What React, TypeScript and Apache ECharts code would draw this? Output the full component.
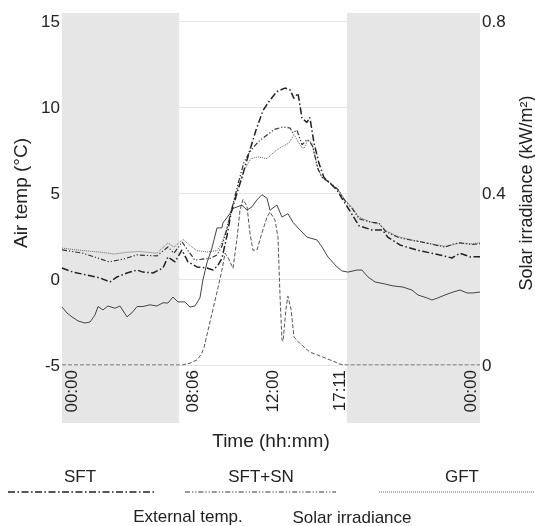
import React, { useEffect, useRef } from "react";
import * as echarts from "echarts";

// ---- axis ticks ----
const xTickPos = [0.57, 7.52, 12.11, 15.96, 23.48];
const xTickLabels = ["00:00", "08:06", "12:00", "17:11", "00:00"];
const nightBands = [
  [0, 6.72],
  [16.36, 24],
];

// ---- series names ----
const seriesNames = ["SFT", "SFT+SN", "GFT", "External temp.", "Solar irradiance"];

// ---- SFT (dash-dot) ----
const sftTime = [0, 0.63, 1.45, 2.18, 2.76, 3.16, 3.73, 4.31, 4.65, 5.22, 5.8, 6.08, 6.49, 6.89, 7.23, 7.75, 8.32, 8.67, 8.96, 9.18, 9.47, 9.7, 9.99, 10.33, 10.73, 11.14, 11.54, 11.94, 12.34, 12.8, 13.09, 13.32, 13.55, 13.78, 14.06, 14.23, 14.47, 14.75, 15.04, 15.38, 15.79, 16.13, 16.5, 17.05, 17.8, 18.4, 18.7, 19.4, 20.35, 21.7, 22.39, 22.85, 23.45, 24];
const sftTemp = [0.64, 0.4, 0.23, 0.06, -0.17, 0.12, 0.35, 0.52, 0.4, 0.35, 0.64, 1.28, 1.0, 1.69, 1.0, 0.7, 0.64, 0.52, 0.8, 1.2, 2.5, 3.8, 4.8, 5.9, 7.3, 8.66, 9.8, 10.4, 10.9, 11.1, 11.0, 10.5, 10.8, 9.36, 9.1, 9.4, 7.9, 6.74, 5.9, 5.58, 5.17, 4.6, 4.0, 3.1, 2.85, 2.85, 2.44, 1.98, 1.69, 1.4, 1.22, 1.5, 1.28, 1.3];

// ---- SFT+SN (dash-dot-dot) ----
const sftsnTime = [0, 1.2, 2.7, 3.5, 4.3, 5.45, 6.08, 6.43, 6.9, 7.2, 7.63, 8.0, 8.5, 8.9, 9.18, 9.47, 9.76, 10.1, 10.45, 10.85, 11.3, 11.77, 12.2, 12.69, 13.09, 13.26, 13.49, 13.78, 14.06, 14.23, 14.4, 14.69, 14.93, 15.38, 15.85, 16.25, 16.7, 17.05, 17.75, 18.2, 18.6, 19.35, 20.1, 20.9, 22.0, 22.5, 22.85, 23.5, 24];
const sftsnTemp = [1.69, 1.5, 1.0, 1.15, 1.4, 1.34, 1.86, 1.5, 2.15, 1.7, 1.1, 1.15, 1.2, 1.4, 1.9, 2.9, 4.1, 5.5, 6.8, 7.5, 8.0, 8.37, 8.7, 8.84, 8.78, 8.5, 8.66, 7.8, 8.1, 7.97, 7.7, 6.4, 5.9, 5.6, 5.2, 4.55, 4.05, 3.5, 3.3, 3.25, 2.75, 2.4, 2.25, 2.1, 1.85, 2.05, 2.1, 2.0, 2.05];

// ---- GFT (dotted) ----
const gftTime = [0, 0.75, 2.3, 3.0, 3.7, 4.4, 5.45, 6.08, 6.43, 6.95, 7.35, 7.75, 8.32, 8.9, 9.18, 9.47, 9.76, 10.1, 10.45, 10.85, 11.25, 11.77, 12.2, 12.63, 13.03, 13.32, 13.49, 13.72, 13.9, 14.12, 14.35, 14.64, 14.93, 15.38, 15.85, 16.25, 16.7, 17.05, 17.75, 18.2, 18.6, 19.35, 20.1, 20.9, 22.0, 22.5, 22.85, 23.5, 24];
const gftTemp = [1.8, 1.7, 1.55, 1.45, 1.55, 1.6, 1.5, 2.1, 1.85, 2.3, 1.95, 1.65, 1.57, 1.65, 2.1, 3.0, 4.2, 5.3, 6.3, 7.0, 7.1, 7.0, 7.4, 7.7, 7.9, 8.4, 8.1, 7.7, 7.6, 8.1, 7.9, 6.6, 5.9, 5.6, 5.2, 4.6, 4.1, 3.6, 3.3, 3.2, 2.8, 2.45, 2.27, 2.1, 1.9, 2.0, 2.1, 2.05, 2.1];

// ---- External temperature (solid) ----
const extTime = [0, 0.29, 0.57, 0.92, 1.32, 1.61, 1.89, 2.07, 2.35, 2.64, 3.04, 3.33, 3.73, 4.02, 4.31, 4.65, 5.05, 5.45, 5.8, 6.08, 6.37, 6.66, 7.06, 7.35, 7.63, 7.92, 8.09, 8.32, 8.61, 8.9, 9.18, 9.24, 9.64, 9.82, 10.33, 10.62, 10.91, 11.19, 11.48, 11.77, 11.94, 12.34, 12.63, 12.97, 13.26, 13.66, 14.06, 14.64, 14.93, 15.27, 15.79, 16.07, 16.42, 16.93, 17.22, 17.57, 17.97, 18.54, 19.0, 19.58, 20.09, 20.44, 20.95, 21.24, 21.58, 21.99, 22.45, 22.85, 23.25, 23.59, 24];
const extTemp = [-1.63, -1.98, -2.2, -2.44, -2.56, -2.5, -2.1, -1.6, -1.8, -1.57, -1.7, -1.57, -2.2, -1.96, -1.6, -1.6, -1.5, -1.57, -1.38, -1.4, -1.05, -1.33, -1.33, -1.63, -1.57, -1.1, -0.06, 0.93, 1.8, 2.97, 2.97, 3.26, 3.8, 4.1, 4.3, 4.0, 4.2, 4.6, 4.9, 4.7, 4.0, 4.3, 3.6, 3.8, 3.3, 2.85, 2.44, 2.27, 1.86, 1.28, 0.7, 0.47, 0.4, 0.52, 0.52, 0.12, -0.17, -0.29, -0.4, -0.47, -0.64, -0.93, -1.1, -1.22, -1.1, -0.93, -0.76, -0.64, -0.81, -0.81, -0.76];

// ---- Solar irradiance (dashed, kW/m2) ----
const solarTime = [0, 6.9, 7.41, 7.75, 8.0, 8.15, 8.38, 8.67, 8.96, 9.18, 9.36, 9.53, 9.82, 10.05, 10.22, 10.39, 10.62, 10.79, 10.96, 11.19, 11.48, 11.77, 11.94, 12.23, 12.4, 12.52, 12.63, 12.69, 12.86, 12.97, 13.15, 13.32, 13.66, 14.23, 14.69, 15.38, 15.96, 16.36, 24];
const solarIrr = [0, 0, 0.005, 0.012, 0.025, 0.04, 0.08, 0.13, 0.18, 0.22, 0.26, 0.25, 0.225, 0.295, 0.36, 0.385, 0.37, 0.307, 0.267, 0.267, 0.307, 0.344, 0.356, 0.337, 0.298, 0.158, 0.058, 0.055, 0.13, 0.16, 0.13, 0.065, 0.05, 0.03, 0.023, 0.012, 0.002, 0, 0];

const FONT = "'Liberation Sans', Arial, sans-serif";
const TXT = "#222";

const zip = (t: number[], v: number[]) => t.map((x, i) => [x, v[i]]);

const styles = [
  { color: "#222", width: 1.5, dash: [7, 2.5, 1.5, 2.5] },
  { color: "#333", width: 1.2, dash: [5, 2, 1.2, 2, 1.2, 2] },
  { color: "#666", width: 1, dash: [1, 1] },
  { color: "#444", width: 1, dash: "solid" as any },
  { color: "#555", width: 1, dash: [4, 2] },
];

const legendLayout = [
  { tx: 80, ty: 476, x1: 8, x2: 156, ly: 492 },
  { tx: 261, ty: 476, x1: 185, x2: 336, ly: 492 },
  { tx: 462, ty: 476, x1: 379, x2: 535, ly: 492 },
  { tx: 188, ty: 516, x1: 110, x2: 258, ly: 533 },
  { tx: 352, ty: 517, x1: 278, x2: 426, ly: 533 },
];

export default function App() {
  const ref = useRef<HTMLDivElement>(null);
  useEffect(() => {
    if (!ref.current) return;
    const chart = echarts.init(ref.current, undefined, { renderer: "svg" });
    const datasets = [
      zip(sftTime, sftTemp),
      zip(sftsnTime, sftsnTemp),
      zip(gftTime, gftTemp),
      zip(extTime, extTemp),
      zip(solarTime, solarIrr),
    ];
    chart.setOption({
      animation: false,
      grid: { left: 62, right: 55, top: 21, bottom: 161, containLabel: false, outerBoundsMode: "none" },
      xAxis: {
        type: "value",
        min: 0,
        max: 24,
        name: "Time (hh:mm)",
        nameLocation: "middle",
        nameGap: 66,
        nameTextStyle: { fontFamily: FONT, fontSize: 19, color: TXT },
        axisLine: { show: false },
        axisTick: { show: false },
        splitLine: { show: false },
        axisLabel: {
          customValues: xTickPos,
          rotate: 90,
          margin: 5,
          fontFamily: FONT,
          fontSize: 17,
          color: TXT,
          formatter: (v: number) => {
            let best = 0;
            xTickPos.forEach((p, i) => {
              if (Math.abs(p - v) < Math.abs(xTickPos[best] - v)) best = i;
            });
            return xTickLabels[best];
          },
        },
      },
      yAxis: [
        {
          type: "value",
          min: -5,
          max: 15,
          interval: 5,
          name: "Air temp (°C)",
          nameLocation: "middle",
          nameGap: 30,
          nameRotate: 90,
          nameTextStyle: { fontFamily: FONT, fontSize: 19, color: TXT },
          axisLine: { show: false },
          axisTick: { show: false },
          axisLabel: { margin: 2, fontFamily: FONT, fontSize: 17, color: TXT },
          splitLine: { show: true, lineStyle: { color: "#e4e4e4", width: 1 } },
        },
        {
          type: "value",
          min: 0,
          max: 0.8,
          interval: 0.4,
          position: "right",
          name: "Solar irradiance (kW/m²)",
          nameLocation: "middle",
          nameGap: 29,
          nameRotate: 90,
          nameTextStyle: { fontFamily: FONT, fontSize: 18, color: TXT },
          axisLine: { show: false },
          axisTick: { show: false },
          axisLabel: { margin: 2, fontFamily: FONT, fontSize: 17, color: TXT },
          splitLine: { show: false },
        },
      ],
      series: datasets.map((d, i) => ({
        name: seriesNames[i],
        type: "line",
        yAxisIndex: i === 4 ? 1 : 0,
        data: d,
        showSymbol: false,
        symbol: "none",
        smooth: false,
        z: 5 - i,
        lineStyle: { color: styles[i].color, width: styles[i].width, type: styles[i].dash },
      })),
    });

    const bandRects = nightBands.map((b) => {
      const xa = chart.convertToPixel({ xAxisIndex: 0 }, b[0]) as number;
      const xb = chart.convertToPixel({ xAxisIndex: 0 }, b[1]) as number;
      return {
        type: "rect",
        z: -10,
        silent: true,
        shape: { x: xa, y: 13, width: xb - xa, height: 410 },
        style: { fill: "#e6e6e6" },
      };
    });

    const legendEls: any[] = [];
    seriesNames.forEach((n, i) => {
      const L = legendLayout[i];
      legendEls.push({
        type: "text",
        style: {
          text: n,
          x: L.tx,
          y: L.ty,
          align: "center",
          verticalAlign: "middle",
          fontFamily: FONT,
          fontSize: 17,
          fill: TXT,
        },
      });
      legendEls.push({
        type: "line",
        shape: { x1: L.x1, y1: L.ly, x2: L.x2, y2: L.ly },
        style: {
          stroke: styles[i].color,
          lineWidth: styles[i].width,
          lineDash: Array.isArray(styles[i].dash) ? styles[i].dash : null,
        },
      });
    });

    chart.setOption({ graphic: [...bandRects, ...legendEls] });
    return () => chart.dispose();
  }, []);
  return (
    <div
      ref={ref}
      style={{ position: "fixed", left: 0, top: 0, width: 535, height: 526 }}
    />
  );
}
